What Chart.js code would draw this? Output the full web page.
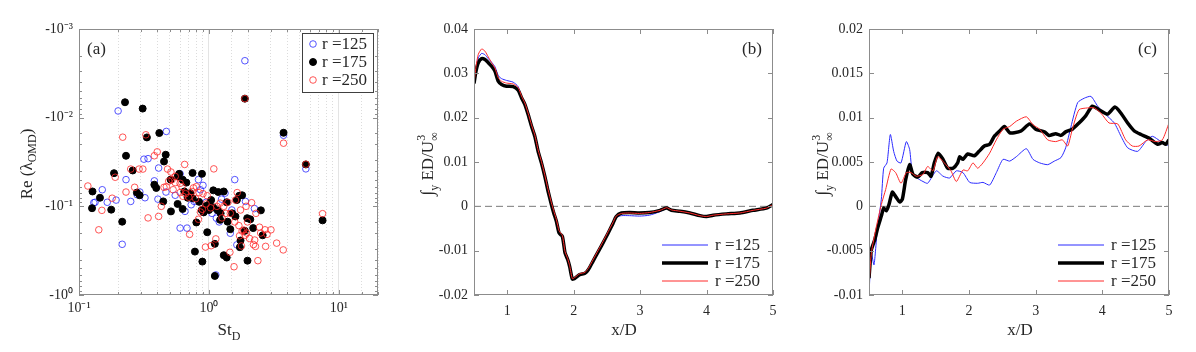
<!DOCTYPE html>
<html>
<head>
<meta charset="utf-8">
<script src="https://cdn.jsdelivr.net/npm/chart.js@4"></script>
<style>
  body { margin: 0; background: #fff; width: 1196px; height: 352px; position: relative; overflow: hidden; }
  canvas { position: absolute; top: 0; }
</style>
</head>
<body>
<canvas id="chartA" width="400" height="352" style="left:0px"></canvas>
<canvas id="chartB" width="396" height="352" style="left:400px"></canvas>
<canvas id="chartC" width="400" height="352" style="left:796px"></canvas>
<script>
// ---- data ----
const seriesLabels = ["r =125", "r =175", "r =250"];

// (a) St_D vs Re(lambda_OMD)
const st125 = [1.89,0.20,0.47,3.75,5.57,0.316,0.34,0.41,0.23,0.38,0.151,0.133,0.165,0.193,0.25,0.294,0.322,0.405,0.215,0.60,0.678,0.467,0.60,0.654,0.73,0.77,0.83,0.90,1.055,1.14,1.25,1.33,1.58,1.46,1.64,1.91,2.24,1.13,0.55,0.86,1.0,1.2,0.28,0.13,0.95,1.5];
const re125 = [-0.00228,-0.0084,-0.0143,-0.0158,-0.0378,-0.0294,-0.029,-0.037,-0.050,-0.0516,-0.065,-0.090,-0.090,-0.085,-0.088,-0.069,-0.080,-0.083,-0.268,-0.176,-0.176,-0.069,-0.043,-0.114,-0.096,-0.088,-0.050,-0.058,-0.12,-0.136,-0.083,-0.071,-0.050,-0.201,-0.272,-0.088,-0.106,-0.594,-0.075,-0.065,-0.105,-0.15,-0.074,-0.091,-0.09,-0.11];
const st175 = [1.89,0.226,0.309,0.415,0.333,3.75,5.57,0.23,0.465,0.451,0.186,0.259,0.127,0.145,0.126,0.177,0.215,0.279,0.293,0.38,0.393,0.445,0.51,0.507,0.574,0.59,0.627,0.748,0.884,0.574,0.627,0.80,0.97,1.08,1.18,1.30,1.37,1.23,1.39,1.46,1.64,1.71,1.80,1.51,1.60,1.97,2.08,2.51,2.19,1.75,1.73,1.89,2.59,1.98,1.11,0.89,0.78,1.30,1.37,1.11,0.88,0.91,0.84,0.75,0.72,0.686,0.646,0.95,1.01,1.08,1.17,1.22,0.67,7.49,1.0,1.04];
const re175 = [-0.0061,-0.0067,-0.0079,-0.0149,-0.0167,-0.0148,-0.0337,-0.0269,-0.0262,-0.0312,-0.0423,-0.0394,-0.068,-0.080,-0.105,-0.109,-0.149,-0.070,-0.075,-0.057,-0.062,-0.088,-0.114,-0.050,-0.046,-0.043,-0.050,-0.042,-0.043,-0.094,-0.107,-0.152,-0.196,-0.066,-0.069,-0.068,-0.090,-0.120,-0.149,-0.181,-0.085,-0.076,-0.075,-0.120,-0.130,-0.136,-0.140,-0.111,-0.176,-0.243,-0.289,-0.189,-0.212,-0.410,-0.265,-0.420,-0.324,-0.356,-0.378,-0.61,-0.110,-0.117,-0.089,-0.081,-0.071,-0.080,-0.068,-0.099,-0.094,-0.103,-0.111,-0.142,-0.054,-0.144,-0.11,-0.085];
const st250 = [1.89,0.217,0.327,3.75,5.57,7.49,0.40,0.38,0.65,1.09,0.25,0.29,0.31,0.19,0.117,0.23,0.268,0.451,0.18,0.15,0.142,0.34,0.41,0.43,0.47,0.51,0.55,0.48,0.60,0.63,0.53,0.71,0.94,1.04,1.13,1.45,1.56,1.78,1.90,1.80,2.28,2.38,2.73,3.32,3.73,2.45,2.70,3.00,2.80,2.50,1.95,2.05,2.25,2.20,2.13,1.93,2.30,1.98,1.65,1.60,1.46,1.35,1.30,1.22,1.15,1.03,0.95,0.89,0.86,0.83,0.79,0.74,0.70,0.66,0.62,0.60,0.55,0.52,0.49,0.80,0.76,0.84,0.90,0.97,1.58,1.70,1.85,1.72,1.26,1.40,1.75];
const re250 = [-0.0061,-0.0166,-0.0156,-0.0194,-0.0335,-0.121,-0.0243,-0.0269,-0.0337,-0.0378,-0.038,-0.038,-0.038,-0.047,-0.059,-0.069,-0.061,-0.061,-0.081,-0.111,-0.184,-0.135,-0.130,-0.100,-0.060,-0.041,-0.046,-0.038,-0.070,-0.077,-0.065,-0.207,-0.288,-0.278,-0.233,-0.330,-0.480,-0.280,-0.212,-0.190,-0.283,-0.410,-0.283,-0.260,-0.310,-0.172,-0.184,-0.184,-0.207,-0.200,-0.200,-0.230,-0.240,-0.270,-0.091,-0.100,-0.120,-0.150,-0.070,-0.085,-0.120,-0.120,-0.100,-0.092,-0.100,-0.104,-0.094,-0.108,-0.116,-0.140,-0.082,-0.068,-0.079,-0.072,-0.060,-0.055,-0.054,-0.050,-0.052,-0.060,-0.062,-0.070,-0.072,-0.076,-0.150,-0.165,-0.185,-0.215,-0.135,-0.090,-0.11];

// (b) x/D vs integrated ED/U^3
const xB = [0.5,0.53,0.565,0.615,0.665,0.715,0.765,0.815,0.865,0.915,0.99,1.09,1.165,1.215,1.265,1.315,1.365,1.415,1.465,1.515,1.565,1.615,1.665,1.70,1.74,1.78,1.83,1.87,1.91,1.94,1.98,2.02,2.09,2.17,2.22,2.29,2.37,2.44,2.52,2.59,2.64,2.72,2.84,2.99,3.14,3.3,3.4,3.47,3.6,3.75,3.9,4.0,4.1,4.3,4.5,4.7,4.9,5.0];
const yB125 = [0.0277,0.031,0.0335,0.0345,0.0342,0.0333,0.0325,0.0315,0.0295,0.0288,0.0284,0.028,0.027,0.0248,0.0232,0.0209,0.0183,0.016,0.0126,0.01,0.007,0.0036,0.0006,-0.0013,-0.0032,-0.0058,-0.0068,-0.0103,-0.0119,-0.0135,-0.0164,-0.0162,-0.0153,-0.0150,-0.0141,-0.0121,-0.0099,-0.0080,-0.0058,-0.0038,-0.0025,-0.0021,-0.0021,-0.0022,-0.0020,-0.0012,-0.0005,-0.0009,-0.0011,-0.0015,-0.0021,-0.0023,-0.002,-0.0017,-0.0015,-0.0009,-0.0004,0.0004];
const yB175 = [0.0277,0.0305,0.0324,0.0333,0.0331,0.0324,0.0316,0.0305,0.0282,0.0275,0.0271,0.027,0.0262,0.0245,0.023,0.0207,0.0181,0.0158,0.0124,0.0098,0.0068,0.0034,0.0004,-0.0015,-0.0034,-0.006,-0.0068,-0.0105,-0.012,-0.0136,-0.0164,-0.0162,-0.0154,-0.0151,-0.0143,-0.0124,-0.0102,-0.0083,-0.006,-0.0039,-0.0023,-0.0015,-0.0014,-0.0015,-0.0014,-0.0009,-0.0004,-0.0009,-0.0011,-0.0015,-0.0021,-0.0023,-0.002,-0.0017,-0.0015,-0.0009,-0.0004,0.0004];
const yB250 = [0.0277,0.0315,0.0343,0.0355,0.0350,0.0337,0.0324,0.0312,0.029,0.0282,0.0278,0.0276,0.0268,0.0249,0.0233,0.021,0.0184,0.0161,0.0127,0.0101,0.0071,0.0038,0.0008,-0.0010,-0.003,-0.0055,-0.0066,-0.0102,-0.0118,-0.0134,-0.0163,-0.0160,-0.0152,-0.0149,-0.0140,-0.0121,-0.0099,-0.0080,-0.0057,-0.0037,-0.0022,-0.0016,-0.0015,-0.0016,-0.0014,-0.0009,-0.0003,-0.0008,-0.0011,-0.0015,-0.0021,-0.0023,-0.002,-0.0017,-0.0015,-0.0009,-0.0004,0.0004];

// (c)
const xC125 = [0.5,0.535,0.575,0.625,0.685,0.72,0.77,0.82,0.87,0.92,0.98,1.06,1.11,1.15,1.22,1.31,1.38,1.51,1.61,1.71,1.81,1.91,2.01,2.13,2.21,2.31,2.41,2.51,2.61,2.71,2.86,2.96,3.06,3.18,3.28,3.38,3.45,3.53,3.63,3.73,3.83,3.93,4.03,4.18,4.28,4.38,4.53,4.65,4.75,4.88,5.0];
const yC125 = [-0.01,-0.0053,-0.0066,-0.0026,0.0008,0.0043,0.0049,0.0081,0.0062,0.0051,0.0049,0.0073,0.0064,0.0038,0.0032,0.0028,0.0026,0.004,0.0034,0.0032,0.004,0.0038,0.0027,0.0026,0.0027,0.0024,0.0038,0.0053,0.0051,0.0056,0.0065,0.0053,0.0049,0.0047,0.0051,0.0055,0.0066,0.009,0.0117,0.0122,0.0124,0.0113,0.0105,0.0094,0.0079,0.0066,0.0062,0.0073,0.0079,0.0073,0.0068];
const xC175 = [0.5,0.535,0.585,0.635,0.685,0.72,0.76,0.8,0.85,0.9,0.96,1.0,1.05,1.11,1.16,1.23,1.3,1.38,1.43,1.48,1.54,1.61,1.68,1.76,1.83,1.86,1.91,1.98,2.08,2.15,2.23,2.31,2.38,2.46,2.53,2.61,2.68,2.78,2.91,3.0,3.13,3.2,3.3,3.38,3.45,3.55,3.65,3.75,3.85,3.95,4.08,4.19,4.28,4.38,4.48,4.58,4.7,4.83,4.9,4.95,5.0];
const yC175 = [-0.0081,-0.0049,-0.0038,-0.0023,-0.0011,-0.0002,-0.0005,0.0002,0.0016,0.0011,0.0005,0.0008,0.003,0.0047,0.0036,0.0033,0.0038,0.0038,0.0034,0.0049,0.006,0.0053,0.0043,0.0043,0.0049,0.0056,0.0053,0.0059,0.0057,0.0062,0.0068,0.007,0.0079,0.0085,0.009,0.0083,0.0083,0.0085,0.0093,0.0087,0.0084,0.008,0.0082,0.008,0.0084,0.0087,0.0094,0.0102,0.0113,0.0109,0.0104,0.0112,0.0105,0.0094,0.0085,0.0081,0.0077,0.007,0.0072,0.007,0.0075];
const xC250 = [0.5,0.535,0.61,0.685,0.75,0.83,0.9,0.98,1.06,1.13,1.21,1.31,1.38,1.46,1.53,1.63,1.73,1.81,1.91,1.98,2.06,2.13,2.21,2.31,2.41,2.51,2.61,2.71,2.86,2.96,3.06,3.18,3.3,3.4,3.48,3.55,3.65,3.78,3.88,3.98,4.1,4.23,4.35,4.45,4.55,4.68,4.8,4.9,5.0];
const yC250 = [-0.009,-0.0053,-0.0023,0.0002,0.0019,0.0042,0.0038,0.0026,0.0038,0.0038,0.0034,0.0036,0.0045,0.004,0.0056,0.0049,0.004,0.0028,0.0041,0.004,0.0049,0.0043,0.0049,0.006,0.0075,0.0087,0.009,0.0096,0.0101,0.0092,0.0087,0.0075,0.0073,0.0075,0.0068,0.0087,0.0109,0.0111,0.0111,0.0105,0.0094,0.0093,0.0075,0.0068,0.0068,0.0075,0.0073,0.0075,0.0094];

// ---- styling helpers ----
const FONT = '"Liberation Serif", "Times New Roman", serif';
const TXT = "#262626";
const AXIS = "#8c8c8c";
const BLUE = "#2a2aff", RED = "#ff2a2a", BLACK = "#000000";

const SUP = { "-": "\u207B", "0": "\u2070", "1": "\u00B9", "2": "\u00B2", "3": "\u00B3" };
const sup = s => s.split("").map(c => SUP[c] || c).join("");
const isDecade = v => Math.abs(Math.log10(v) - Math.round(Math.log10(v))) < 1e-6;
const fmt = v => { const r = Math.round(v * 1e4) / 1e4; return r === 0 ? "0" : String(r); };
const pts = (xs, ys) => xs.map((x, i) => ({ x: x, y: ys[i] }));

// text with sub/superscripts; parts: {t, size, dy, stack}
function drawRich(ctx, parts, x, y, rotate) {
  ctx.save();
  ctx.translate(x, y);
  if (rotate) ctx.rotate(-Math.PI / 2);
  let w = 0;
  parts.forEach(p => {
    ctx.font = p.size + "px " + FONT;
    p.w = ctx.measureText(p.t).width;
    if (!p.stack) w += p.w;
  });
  let cx = -w / 2;
  ctx.fillStyle = TXT;
  ctx.textAlign = "left";
  ctx.textBaseline = "alphabetic";
  parts.forEach(p => {
    ctx.font = p.size + "px " + FONT;
    ctx.fillText(p.t, cx, p.dy || 0);
    if (!p.stack) cx += p.w;
  });
  ctx.restore();
}

// box, inside ticks, titles and legend drawn like a MATLAB axes
function decor(opt) {
  return {
    id: "decor",
    afterDraw(chart) {
      const ctx = chart.ctx, a = chart.chartArea;
      ctx.save();
      ctx.strokeStyle = AXIS;
      ctx.lineWidth = 1;
      ["x", "y"].forEach(id => {
        const s = chart.scales[id];
        s.ticks.forEach(t => {
          const major = s.type !== "logarithmic" || isDecade(t.value);
          const len = major ? 5 : 3;
          const p = Math.round(s.getPixelForValue(t.value)) + 0.5;
          ctx.beginPath();
          if (id === "x") {
            ctx.moveTo(p, a.bottom); ctx.lineTo(p, a.bottom - len);
            ctx.moveTo(p, a.top); ctx.lineTo(p, a.top + len);
          } else {
            ctx.moveTo(a.left, p); ctx.lineTo(a.left + len, p);
            ctx.moveTo(a.right, p); ctx.lineTo(a.right - len, p);
          }
          ctx.stroke();
        });
      });
      ctx.strokeRect(a.left + 0.5, a.top + 0.5, a.right - a.left - 1, a.bottom - a.top - 1);

      // panel tag
      ctx.fillStyle = TXT;
      ctx.font = "17px " + FONT;
      ctx.textAlign = "left";
      ctx.textBaseline = "alphabetic";
      ctx.fillText(opt.tag, opt.tagX, 54);

      drawRich(ctx, opt.xTitle, opt.xTitleX, 335, false);
      drawRich(ctx, opt.yTitle, opt.yTitleX, 164, true);

      // legend
      const L = opt.legend;
      const sets = chart.data.datasets;
      if (L.box) {
        ctx.fillStyle = "#fff";
        ctx.fillRect(L.box[0], L.box[1], L.box[2], L.box[3]);
        ctx.strokeStyle = "#404040";
        ctx.strokeRect(L.box[0] + 0.5, L.box[1] + 0.5, L.box[2], L.box[3]);
      }
      L.items.forEach((di, k) => {
        const ds = sets[di];
        const yy = L.rows[k];
        if (L.type === "marker") {
          ctx.beginPath();
          ctx.arc(L.mx, yy, ds.pointRadius, 0, Math.PI * 2);
          if (ds.backgroundColor !== "transparent") { ctx.fillStyle = ds.backgroundColor; ctx.fill(); }
          ctx.lineWidth = ds.borderWidth;
          ctx.strokeStyle = ds.borderColor;
          ctx.stroke();
        } else {
          ctx.beginPath();
          ctx.moveTo(L.x0, yy); ctx.lineTo(L.x1, yy);
          ctx.lineWidth = ds.borderWidth;
          ctx.strokeStyle = ds.borderColor;
          ctx.stroke();
        }
        ctx.fillStyle = TXT;
        ctx.font = "17px " + FONT;
        ctx.textBaseline = "middle";
        ctx.textAlign = "left";
        ctx.fillText(seriesLabels[k], L.tx, yy + 1);
      });
      ctx.restore();
    }
  };
}

const tickFont = { family: FONT, size: 14 };
const base = {
  responsive: false,
  animation: false,
  events: [],
  plugins: { legend: { display: false }, tooltip: { enabled: false } }
};

// ---- (a) ----
const markerSet = (label, xs, ys, color, filled, order) => ({
  label: label,
  data: xs.map((x, i) => ({ x: x, y: -ys[i] })),
  pointRadius: filled ? 3.5 : 3.3,
  borderWidth: filled ? 1 : 0.8,
  borderColor: color,
  backgroundColor: filled ? color : "transparent",
  order: order
});

new Chart(document.getElementById("chartA"), {
  type: "scatter",
  data: {
    datasets: [
      markerSet(seriesLabels[0], st125, re125, BLUE, false, 2),
      markerSet(seriesLabels[1], st175, re175, BLACK, true, 1),
      markerSet(seriesLabels[2], st250, re250, RED, false, 0)
    ]
  },
  options: {
    ...base,
    layout: { padding: { top: 29, right: 22, left: 0, bottom: 0 } },
    scales: {
      x: {
        type: "logarithmic", min: 0.1, max: 20,
        afterFit: s => { s.height = 57; },
        ticks: {
          autoSkip: false, maxRotation: 0, padding: 5, color: TXT, font: tickFont,
          callback: v => isDecade(v) ? "10" + sup(String(Math.round(Math.log10(v)))) : ""
        },
        grid: {
          drawTicks: false, lineWidth: 1,
          color: c => (c.tick && isDecade(c.tick.value)) ? "#e4e4e4" : "#dcdcdc"
        },
        border: { display: false, dash: c => (c.tick && isDecade(c.tick.value)) ? [] : [1, 2] }
      },
      y: {
        type: "logarithmic", reverse: true, min: 0.001, max: 1,
        afterFit: s => { s.width = 79; },
        ticks: {
          autoSkip: false, padding: 6, color: TXT, font: tickFont,
          callback: v => isDecade(v) ? "-10" + sup(String(Math.round(Math.log10(v)))) : ""
        },
        grid: { display: false, drawTicks: false },
        border: { display: false }
      }
    }
  },
  plugins: [decor({
    tag: "(a)", tagX: 87,
    xTitle: [{ t: "St", size: 17 }, { t: "D", size: 12, dy: 5 }], xTitleX: 229,
    yTitle: [{ t: "Re (", size: 17 }, { t: "\u03BB", size: 17 }, { t: "OMD", size: 12, dy: 4 }, { t: ")", size: 17 }], yTitleX: 32,
    legend: { type: "marker", box: [302, 33, 71, 59], mx: 313, tx: 322, rows: [44, 62, 80], items: [0, 1, 2] }
  })]
});

// ---- (b) and (c) ----
const lineSet = (label, data, color, width, order) => ({
  label: label, data: data, showLine: true, pointRadius: 0,
  borderColor: color, backgroundColor: color, borderWidth: width,
  tension: 0.2, order: order
});

const intTitle = [
  { t: "\u222B", size: 18 }, { t: "y", size: 12, dy: 5 }, { t: " ED/U", size: 17 },
  { t: "3", size: 12, dy: -8, stack: true }, { t: "\u221E", size: 12, dy: 5 }
];

function linePanel(id, xs125, ys125, xs175, ys175, xs250, ys250, yMin, yMax, yStep, yAxisW, padRight, yTitleX) {
  const xLo = xs175[0], xHi = xs175[xs175.length - 1];
  new Chart(document.getElementById(id), {
    type: "scatter",
    data: {
      datasets: [
        lineSet(seriesLabels[0], pts(xs125, ys125), BLUE, 1, 2),
        lineSet(seriesLabels[1], pts(xs175, ys175), BLACK, 3.5, 1),
        lineSet(seriesLabels[2], pts(xs250, ys250), RED, 1, 0),
        { label: "zero", data: [{ x: xLo, y: 0 }, { x: xHi, y: 0 }], showLine: true, pointRadius: 0,
          borderColor: "#7a7a7a", borderWidth: 1, borderDash: [7, 4], order: 5 }
      ]
    },
    options: {
      ...base,
      layout: { padding: { top: 29, right: padRight, left: 0, bottom: 0 } },
      scales: {
        x: {
          type: "linear", min: 0.5, max: 5,
          afterFit: s => { s.height = 57; },
          afterBuildTicks: s => { s.ticks = [1, 2, 3, 4, 5].map(v => ({ value: v })); },
          ticks: { autoSkip: false, maxRotation: 0, padding: 8, color: TXT, font: tickFont, callback: v => String(v) },
          grid: { display: false, drawTicks: false },
          border: { display: false }
        },
        y: {
          type: "linear", min: yMin, max: yMax,
          afterFit: s => { s.width = yAxisW; },
          ticks: { stepSize: yStep, autoSkip: false, padding: 6, color: TXT, font: tickFont, callback: v => fmt(v) },
          grid: { display: false, drawTicks: false },
          border: { display: false }
        }
      }
    },
    plugins: [decor({
      tag: id === "chartB" ? "(b)" : "(c)", tagX: 342,
      xTitle: [{ t: "x/D", size: 17 }], xTitleX: 224,
      yTitle: intTitle, yTitleX: yTitleX,
      legend: { type: "line", x0: 262, x1: 308, tx: 315, rows: [245, 263, 281], items: [0, 1, 2] }
    })]
  });
}

linePanel("chartB", xB, yB125, xB, yB175, xB, yB250, -0.02, 0.04, 0.01, 74, 23, 33);
linePanel("chartC", xC125, yC125, xC175, yC175, xC250, yC250, -0.01, 0.02, 0.005, 73, 27, 32);
</script>
</body>
</html>
